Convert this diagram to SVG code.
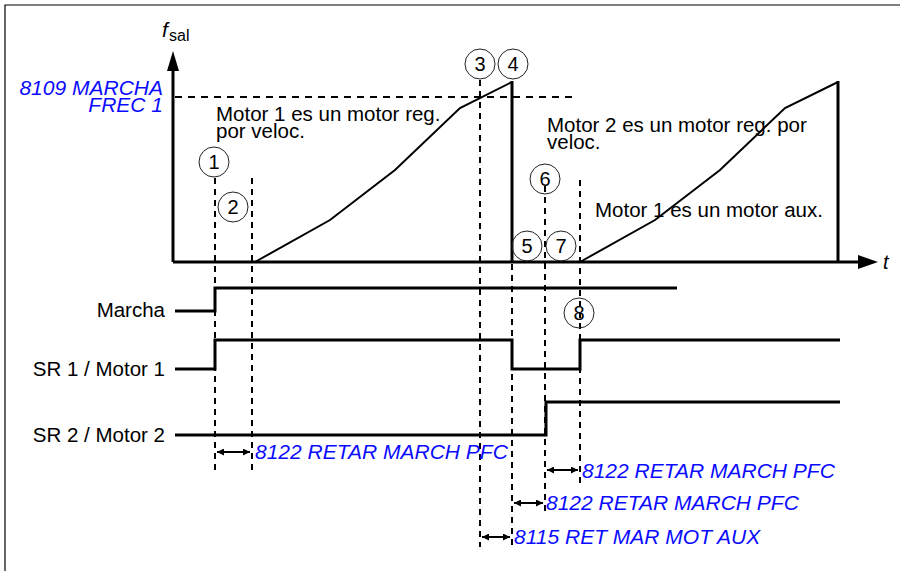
<svg xmlns="http://www.w3.org/2000/svg" width="900" height="571" viewBox="0 0 900 571">
<defs>
<style>
text{font-family:"Liberation Sans",Arial,sans-serif;fill:#000}
.lbl{font-size:20.5px}
.blue{font-size:21px;font-style:italic;fill:#0a0aff}
.num{font-size:20px;text-anchor:middle}
.circ{fill:none;stroke:#222;stroke-width:1}
.sig{fill:none;stroke:#000;stroke-width:3}
.curve{fill:none;stroke:#000;stroke-width:2}
.dash{fill:none;stroke:#000;stroke-width:2;stroke-dasharray:6 5}
.hdash{fill:none;stroke:#000;stroke-width:2;stroke-dasharray:7 6}
.dbl{fill:none;stroke:#000;stroke-width:2;marker-start:url(#ah);marker-end:url(#ah)}
</style>
<marker id="ah" viewBox="0 0 10 10" refX="10" refY="5" markerWidth="9" markerHeight="7" markerUnits="userSpaceOnUse" orient="auto-start-reverse">
<path d="M0,0 L10,5 L0,10 z" fill="#000"/>
</marker>
</defs>
<path d="M5,571 V5 H900" fill="none" stroke="#000" stroke-width="1.2"/>

<g id="axes">
<line x1="173" y1="262" x2="173" y2="68" stroke="#000" stroke-width="3"/>
<path d="M167,71 L173,51 L179,71 z" fill="#000"/>
<line x1="173" y1="262" x2="860" y2="262" stroke="#000" stroke-width="3"/>
<path d="M858,255 L878,262 L858,269 z" fill="#000"/>
<text x="162" y="37" style="font-size:21px;font-style:italic">f</text>
<text x="169" y="41" style="font-size:16px">sal</text>
<text x="883" y="269" style="font-size:20px;font-style:italic">t</text>
</g>

<g id="freq-level">
<line class="hdash" x1="175" y1="97" x2="572" y2="97"/>
<text class="blue" x="163" y="95" text-anchor="end">8109 MARCHA</text>
<text class="blue" x="163" y="112" text-anchor="end">FREC 1</text>
</g>

<g id="motor1-curve">
<polyline class="curve" points="255,262 330,220 395,170 460,108 512,82"/>
<line x1="512" y1="81" x2="512" y2="262" stroke="#000" stroke-width="3"/>
<text class="lbl" x="216" y="121">Motor 1 es un motor reg.</text>
<text class="lbl" x="216" y="138">por veloc.</text>
</g>

<g id="motor2-curve">
<polyline class="curve" points="580,262 655,220 720,170 785,108 838,82"/>
<line x1="838" y1="81" x2="838" y2="262" stroke="#000" stroke-width="3"/>
<text class="lbl" x="547" y="132">Motor 2 es un motor reg. por</text>
<text class="lbl" x="547" y="149">veloc.</text>
<text class="lbl" x="595" y="217">Motor 1  es un motor aux.</text>
</g>

<g id="marcha">
<polyline class="sig" points="175,311 215,311 215,288 677,288"/>
<text class="lbl" x="165" y="317" text-anchor="end">Marcha</text>
</g>
<g id="sr1">
<polyline class="sig" points="175,369 215,369 215,340 512,340 512,369 580,369 580,340 840,340"/>
<text class="lbl" x="165" y="376" text-anchor="end">SR 1 / Motor 1</text>
</g>
<g id="sr2">
<polyline class="sig" points="175,435 546,435 546,402 840,402"/>
<text class="lbl" x="165" y="442" text-anchor="end">SR 2 / Motor 2</text>
</g>

<g id="connectors">
<line class="dash" x1="215" y1="178" x2="215" y2="470"/>
<line class="dash" x1="252" y1="178" x2="252" y2="470"/>
<line class="dash" x1="480" y1="80" x2="480" y2="547"/>
<line class="dash" x1="512" y1="264" x2="512" y2="547"/>
<line class="dash" x1="545" y1="186" x2="545" y2="513"/>
<line class="dash" x1="580" y1="180" x2="580" y2="488"/>
<line class="dbl" x1="217" y1="452" x2="250" y2="452"/>
<line class="dbl" x1="547" y1="470" x2="578" y2="470"/>
<line class="dbl" x1="514" y1="503" x2="543" y2="503"/>
<line class="dbl" x1="482" y1="537" x2="510" y2="537"/>
</g>

<g id="delay-labels">
<text class="blue" x="255" y="459">8122 RETAR MARCH PFC</text>
<text class="blue" x="582" y="478">8122 RETAR MARCH PFC</text>
<text class="blue" x="546" y="510">8122 RETAR MARCH PFC</text>
<text class="blue" x="514" y="544">8115 RET MAR MOT AUX</text>
</g>

<g id="m1"><circle class="circ" cx="214" cy="162" r="15"/><text class="num" x="214" y="169">1</text></g>
<g id="m2"><circle class="circ" cx="233" cy="207" r="15"/><text class="num" x="233" y="214">2</text></g>
<g id="m3"><circle class="circ" cx="480" cy="64" r="15"/><text class="num" x="480" y="71">3</text></g>
<g id="m4"><circle class="circ" cx="513" cy="64" r="15"/><text class="num" x="513" y="71">4</text></g>
<g id="m5"><circle class="circ" cx="527" cy="246" r="15"/><text class="num" x="527" y="253">5</text></g>
<g id="m6"><circle class="circ" cx="545" cy="179" r="15"/><text class="num" x="545" y="186">6</text></g>
<g id="m7"><circle class="circ" cx="561" cy="246" r="15"/><text class="num" x="561" y="253">7</text></g>
<g id="m8"><circle class="circ" cx="579" cy="313" r="15"/><text class="num" x="579" y="320">8</text></g>
</svg>
